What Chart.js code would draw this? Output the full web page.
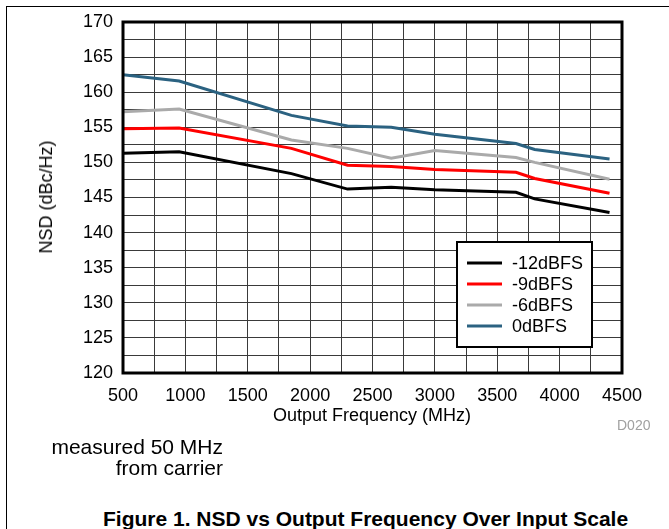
<!DOCTYPE html>
<html>
<head>
<meta charset="utf-8">
<script src="https://cdn.jsdelivr.net/npm/chart.js@4/dist/chart.umd.min.js"></script>
<style>
  html, body { margin: 0; padding: 0; background: #fff; }
  body { width: 669px; height: 529px; position: relative; overflow: hidden;
         font-family: "Liberation Sans", Arial, sans-serif; color: #000; }
  #frame { position: absolute; left: 6px; top: 6px; width: 700px; height: 600px;
           border-left: 1px solid #000; border-top: 1px solid #000; }
  #wrap { position: absolute; left: 0; top: 0; width: 669px; height: 440px; }
  .txt { position: absolute; white-space: nowrap; font-size: 18px; line-height: 1; }
  #ytitle { left: 46px; top: 197px; transform: translate(-50%, -50%) rotate(-90deg); }
  #xtitle { left: 372px; top: 415px; transform: translate(-50%, -50%); }
  #code { left: 617px; top: 418px; font-size: 14px; color: #a0a0a0; }
  #note1 { right: 446px; top: 436px; font-size: 21px; }
  #note2 { right: 446px; top: 457px; font-size: 21px; }
  #fig { left: 103px; top: 508px; font-size: 21px; font-weight: bold; }
</style>
</head>
<body>
<div id="frame"></div>
<div id="wrap"><canvas id="c" width="669" height="440"></canvas></div>
<div class="txt" id="ytitle">NSD (dBc/Hz)</div>
<div class="txt" id="xtitle">Output Frequency (MHz)</div>
<div class="txt" id="code">D020</div>
<div class="txt" id="note1">measured 50 MHz</div>
<div class="txt" id="note2">from carrier</div>
<div class="txt" id="fig">Figure 1. NSD vs Output Frequency Over Input Scale</div>
<script>
// Output frequency (MHz) at which NSD was measured
const freqMHz = [500, 950, 1850, 2300, 2650, 3000, 3650, 3800, 4400];

// NSD (dBc/Hz) per input level
const nsdMinus12 = [151.3, 151.5, 148.4, 146.2, 146.45, 146.1, 145.75, 144.8, 142.85];
const nsdMinus9  = [154.8, 154.9, 152.0, 149.6, 149.4, 149.0, 148.6, 147.7, 145.6];
const nsdMinus6  = [157.2, 157.6, 153.2, 152.0, 150.6, 151.7, 150.7, 150.0, 147.6];
const nsd0       = [162.5, 161.6, 156.7, 155.2, 155.0, 154.0, 152.7, 151.85, 150.5];

const seriesNames = ['-12dBFS', '-9dBFS', '-6dBFS', '0dBFS'];
const seriesColors = ['#000000', '#ff0000', '#aaaaaa', '#2b6281'];

// axis ranges and label steps
const xMin = 500, xMax = 4500, xGridStep = 250, xLabelStep = 500;
const yMin = 120, yMax = 170, yGridStep = 2.5, yLabelStep = 5;

const FONT = "'Liberation Sans', Arial, sans-serif";

function toPoints(values) {
  return freqMHz.map((f, i) => ({ x: f, y: values[i] }));
}

const allSeries = [nsdMinus12, nsdMinus9, nsdMinus6, nsd0];
const datasets = allSeries.map((vals, i) => ({
  label: seriesNames[i],
  data: toPoints(vals),
  borderColor: seriesColors[i],
  backgroundColor: seriesColors[i],
  borderWidth: 3,
  pointRadius: 0,
  tension: 0,
  fill: false
}));

// heavy frame round the plot area and a boxed legend inside it
const framePlugin = {
  id: 'frameAndLegend',
  afterDraw(chart) {
    const { ctx, chartArea: a } = chart;
    ctx.save();
    ctx.strokeStyle = '#000';
    ctx.lineWidth = 3;
    ctx.strokeRect(a.left, a.top, a.right - a.left, a.bottom - a.top);

    // legend box
    const bx = a.left + 334, by = a.top + 220, bw = 135, bh = 105;
    ctx.fillStyle = '#fff';
    ctx.fillRect(bx, by, bw, bh);
    ctx.lineWidth = 2;
    ctx.strokeRect(bx, by, bw, bh);
    ctx.font = '18px ' + FONT;
    ctx.textBaseline = 'middle';
    ctx.textAlign = 'left';
    chart.data.datasets.forEach((ds, i) => {
      const y = by + 21 + i * 21;
      ctx.strokeStyle = ds.borderColor;
      ctx.lineWidth = 3;
      ctx.beginPath();
      ctx.moveTo(bx + 10, y);
      ctx.lineTo(bx + 45, y);
      ctx.stroke();
      ctx.fillStyle = '#000';
      ctx.fillText(ds.label, bx + 55, y + 1);
    });
    ctx.restore();
  }
};

new Chart(document.getElementById('c'), {
  type: 'line',
  data: { datasets },
  options: {
    responsive: false,
    animation: false,
    layout: { padding: { top: 22, right: 47, left: 0, bottom: 0 } },
    plugins: { legend: { display: false }, tooltip: { enabled: false } },
    scales: {
      x: {
        type: 'linear',
        min: xMin, max: xMax,
        afterFit(s) { s.height = 67; },
        grid: { color: '#3a3a3a', lineWidth: 1, drawTicks: false },
        border: { display: false },
        ticks: {
          stepSize: xGridStep,
          autoSkip: false,
          maxRotation: 0,
          padding: 12,
          color: '#000',
          font: { family: FONT, size: 18 },
          callback: v => (v % xLabelStep === 0 ? String(v) : '')
        }
      },
      y: {
        min: yMin, max: yMax,
        afterFit(s) { s.width = 123; },
        grid: { color: '#3a3a3a', lineWidth: 1, drawTicks: false },
        border: { display: false },
        ticks: {
          stepSize: yGridStep,
          autoSkip: false,
          padding: 10,
          color: '#000',
          font: { family: FONT, size: 18 },
          callback: v => (v % yLabelStep === 0 ? String(v) : '')
        }
      }
    }
  },
  plugins: [framePlugin]
});
</script>
</body>
</html>
